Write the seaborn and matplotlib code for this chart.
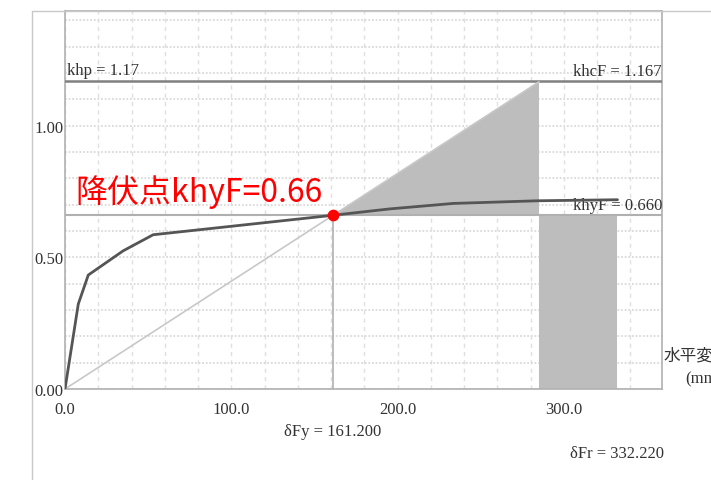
import numpy as np
import pandas as pd
import seaborn as sns
import matplotlib.pyplot as plt
from matplotlib.lines import Line2D

# Datos de la curva de capacidad (lectura del grafico)
desp = [0.0, 8.0, 14.0, 35.0, 53.0, 161.2, 195.0, 233.6, 283.7, 332.22]
coef = [0.0, 0.323, 0.433, 0.525, 0.586, 0.660, 0.684, 0.705, 0.715, 0.719]

khp = 1.17
khcF = 1.167
khyF = 0.660
dFy = 161.200
dFr = 332.220

x_ticks = [0, 100, 200, 300]
x_labels = ['0.0', '100.0', '200.0', '300.0']
y_ticks = [0.0, 0.5, 1.0]
y_labels = ['0.00', '0.50', '1.00']

curva = pd.DataFrame({'desp': desp, 'coef': coef})

sns.set_style('white')
plt.rcParams['font.family'] = ['Liberation Serif', 'DejaVu Serif']

fig = plt.figure(figsize=(7.11, 4.81), dpi=100)
ax = fig.add_axes([65 / 711, 1 - 390 / 481, 597 / 711, 378 / 481])

# marco exterior
fig.add_artist(Line2D([32 / 711, 32 / 711], [0, 1 - 12 / 481], color='#c8c8c8', lw=1))
fig.add_artist(Line2D([32 / 711, 1], [1 - 12 / 481, 1 - 12 / 481], color='#c8c8c8', lw=1))

# desplazamiento en khcF sobre la recta secante
d_c = khcF / khyF * dFy

# zonas sombreadas
ax.fill([dFy, d_c, d_c], [khyF, khcF, khyF], color='#bdbdbd', lw=0, zorder=2)
ax.fill_between([d_c, dFr], 0, khyF, color='#bdbdbd', lw=0, zorder=2)

# lineas horizontales
ax.axhline(khp, color='#808080', lw=1.8, zorder=3)
ax.axhline(khyF, color='#b0b0b0', lw=1.5, zorder=3)
ax.plot([dFy, dFy], [0, khyF], color='#b0b0b0', lw=1.2, zorder=3)
ax.plot([0, d_c], [0, khcF], color='#c8c8c8', lw=1.2, zorder=3)

sns.lineplot(data=curva, x='desp', y='coef', color='#555555', lw=2.0, ax=ax, zorder=4)
ax.scatter([dFy], [khyF], color='red', s=55, zorder=5)

ax.set_xlim(0, 359)
ax.set_ylim(0, 1.436)
ax.set_xticks(x_ticks)
ax.set_xticklabels(x_labels, fontsize=12, color='#333333')
ax.set_yticks(y_ticks)
ax.set_yticklabels(y_labels, fontsize=12, color='#333333')
ax.set_xticks(np.arange(0, 360, 20), minor=True)
ax.set_yticks(np.arange(0, 1.45, 0.1), minor=True)
ax.tick_params(which='both', length=0)
ax.tick_params(axis='x', pad=9)
ax.tick_params(axis='y', pad=1)
ax.xaxis.grid(which='both', color='#e0e0e0', lw=1, ls=(0, (3, 3)), zorder=0)
ax.yaxis.grid(which='both', color='#dadada', lw=1.3, ls=(0, (1, 1)), zorder=0)
ax.set_xlabel('')
ax.set_ylabel('')
for s in ax.spines.values():
    s.set_color('#b0b0b0')
    s.set_linewidth(1.2)

# textos
ax.text(1, khp + 0.01, 'khp = 1.17', fontsize=12, color='#333333', ha='left', va='bottom')
ax.text(359, khcF + 0.01, 'khcF = 1.167', fontsize=12, color='#333333', ha='right', va='bottom')
ax.text(359, khyF + 0.01, 'khyF = 0.660', fontsize=12, color='#333333', ha='right', va='bottom')
ax.text(6, 0.752, '降伏点khyF=0.66', fontsize=23, color='red', ha='left', va='center',
        family=['Noto Sans CJK JP', 'DejaVu Sans'])
ax.text(dFy, -0.16, 'δFy = 161.200', fontsize=12, color='#333333', ha='center', va='center')
ax.text(dFr, -0.245, 'δFr = 332.220', fontsize=12, color='#333333', ha='center', va='center')
ax.text(360, 0.13, '水平変位', fontsize=12, color='#333333', ha='left', va='center',
        family=['Noto Sans CJK JP', 'DejaVu Sans'])
ax.text(373, 0.04, '(mm)', fontsize=12, color='#333333', ha='left', va='center')

fig.savefig('out.png', dpi=100)
